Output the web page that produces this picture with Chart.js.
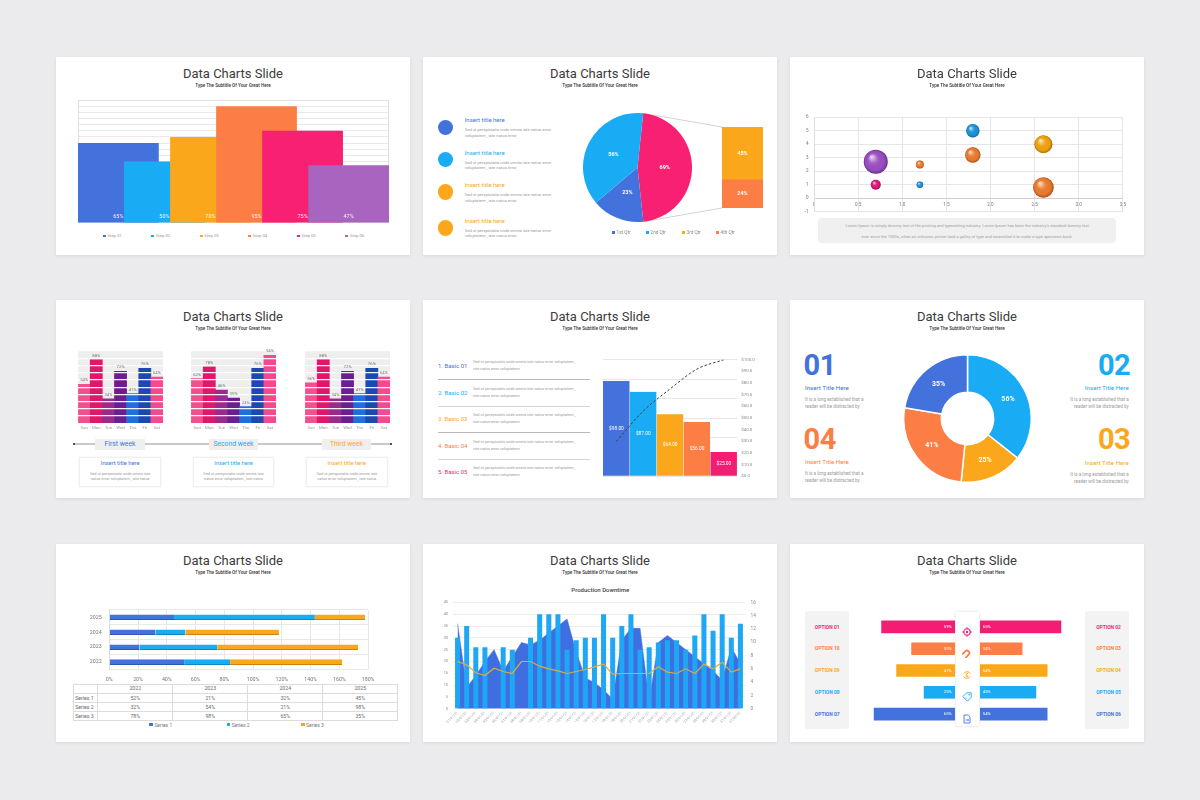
<!DOCTYPE html>
<html><head><meta charset="utf-8"><title>Data Charts Slides</title>
<script src="https://cdn.jsdelivr.net/npm/chart.js@4.4.1/dist/chart.umd.min.js"></script>
<style>
html,body{margin:0;padding:0;}
body{width:1200px;height:800px;background:#ebebed;position:relative;overflow:hidden;font-family:Roboto,"Noto Sans",sans-serif;}
.card{position:absolute;width:354px;height:198px;background:#fff;box-shadow:0 1px 3px rgba(0,0,0,0.08);}
.t{position:absolute;white-space:nowrap;line-height:1;}
canvas{position:absolute;}
table td{border:0.5px solid #dcdcdc;padding:0;height:8.1px;line-height:1;text-align:center;}
</style></head>
<body>
<script>
// ================= DATA =================
const slideTitle = 'Data Charts Slide';
const slideSubtitle = 'Type The Subtitle Of Your Great Here';

// slide 1
const stepLabels = ['Step 01','Step 02','Step 03','Step 04','Step 05','Step 06'];
const stepValues = [65, 50, 70, 95, 75, 47];

// slide 2
const infoTitles = ['Insert title here','Insert title here','Insert title here','Insert title here'];
const infoLines = ['Sed ut perspiciatis unde omnis iste natus error','voluptatem , iste natus error'];
const qtrLabels = ['1st Qtr','2nd Qtr','3rd Qtr','4th Qtr'];
const qtrValues = [23, 56, 45, 24];
const pieLabels = ['3rd + 4th Qtr','1st Qtr','2nd Qtr'];
const pieValues = [69, 23, 56];

// slide 3
const bubbleX = [0.7, 0.7, 1.2, 1.2, 1.8, 1.8, 2.6, 2.6];
const bubbleY = [2.7, 1.0, 2.5, 1.0, 5.0, 3.2, 4.0, 0.8];
const bubbleSize = [12, 5, 4, 3.3, 6.7, 7.7, 9, 10.3];
const loremLines = ["Lorem Ipsum is simply dummy text of the printing and typesetting industry. Lorem Ipsum has been the industry's standard dummy text",
                    "ever since the 1500s, when an unknown printer took a galley of type and scrambled it to make a type specimen book."];

// slide 4
const dayLabels = ['Sun','Mon','Tue','Wed','Thu','Fri','Sat'];
const weekNames = ['First week','Second week','Third week'];
const weekOne = [54, 88, 34, 72, 41, 76, 64];
const weekTwo = [62, 78, 46, 35, 23, 76, 94];
const weekThree = [56, 88, 34, 72, 41, 76, 64];
const weekCardTitle = 'Insert title here';
const weekCardLines = ['Sed ut perspiciatis unde omnis iste','natus error voluptatem , iste natus'];

// slide 5
const basicLabels = ['Basic 01','Basic 02','Basic 03','Basic 04','Basic 05'];
const basicLines = ['Sed ut perspiciatis unde omnis iste natus error voluptatem ,','iste natus error voluptatem'];
const paretoValues = [98, 87, 64, 56, 25];
const paretoCumulative = [30, 56, 75, 92, 100];

// slide 6
const donutLabels = ['02','03','04','01'];
const donutValues = [56, 25, 41, 35];
const donutTitle = 'Insert Title Here';
const donutLines = ['It is a long established that a','reader will be distracted by'];

// slide 7
const yearLabels = ['2022','2023','2024','2025'];
const seriesNames = ['Series 1','Series 2','Series 3'];
const series1 = [52, 21, 32, 45];
const series2 = [32, 54, 21, 98];
const series3 = [78, 98, 65, 35];

// slide 8
const downtimeTitle = 'Production Downtime';
const downtimeDates = ['01/01/21','02/01/21','03/01/21','04/01/21','05/01/21','06/01/21','07/01/21','08/01/21',
  '09/01/21','10/01/21','11/01/21','12/01/21','13/01/21','14/01/21','15/01/21','16/01/21',
  '17/01/21','18/01/21','19/01/21','20/01/21','21/01/21','22/01/21','23/01/21','24/01/21',
  '25/01/21','26/01/21','27/01/21','28/01/21','29/01/21','30/01/21','31/01/21','01/02/21'];
const downtimeBars = [30,35,26,26,null,26,25,null,30,40,40,40,25,29,30,30,40,30,35,40,25,26,28,29,29,25,31,40,33,40,30,36];
const downtimeArea = [36,9,14,20,25,16,22,28,27,29,32,35,38,24,13,11,8,4,29,34,34,3,28,31,28,25,22,19,16,12,26,19];
const downtimeLine = [7.1,6.6,5.4,5.0,6.1,5.6,5.3,7.1,7.1,6.4,6.0,5.7,5.3,5.6,5.9,6.3,6.7,5.2,5.3,5.3,5.3,5.3,6.3,5.5,5.3,6.0,5.3,6.7,6.0,7.0,5.5,6.0];

// slide 9
const optionLeftLabels = ['OPTION 01','OPTION 10','OPTION 09','OPTION 08','OPTION 07'];
const optionRightLabels = ['OPTION 02','OPTION 03','OPTION 04','OPTION 05','OPTION 06'];
const optionLeftValues = [59, 35, 47, 25, 65];
const optionRightValues = [65, 34, 54, 45, 54];

// ================= STYLE =================
const BLUE='#4472dc', LBLUE='#1aabf5', YEL='#fba71b', ORG='#fd7e45', PINK='#f72072', PURP='#a864bf';
const stepColors = [BLUE, LBLUE, YEL, ORG, PINK, PURP];
const dayColors = ['#f2508f','#e0176b','#9c2a8c','#6b1e90','#1d70de','#1c48b0','#f54a8f'];
const bubbleColors = ['#9b4dc3','#e0157a','#ec7a2c','#1a93da','#1a93da','#ec7a2c','#f0a20c','#ec7a2c'];
const rowColors = ['#f31d73', ORG, YEL, LBLUE, BLUE];

Chart.defaults.font.family = 'Roboto, "Noto Sans", sans-serif';
Chart.defaults.animation = false;
Chart.defaults.responsive = false;
Chart.defaults.maintainAspectRatio = false;
Chart.defaults.events = [];
Chart.defaults.layout.autoPadding = false;
Chart.defaults.plugins.legend.display = false;
Chart.defaults.plugins.tooltip.enabled = false;

const CARD_X=[56,423,790], CARD_Y=[57,300,544];
function T(p,x,y,text,o){
  o=o||{}; const e=document.createElement('div'); e.className='t'; e.textContent=text;
  const a=o.align||'center';
  e.style.fontSize=(o.size||5)+'px'; e.style.color=o.color||'#888';
  if(o.weight) e.style.fontWeight=o.weight;
  if(o.ls) e.style.letterSpacing=o.ls;
  e.style.left=x+'px'; e.style.top=y+'px';
  e.style.transform='translate('+(a==='center'?'-50%':a==='right'?'-100%':'0')+',-50%)';
  p.appendChild(e); return e;
}
function box(p,x,y,w,h,css){ const e=document.createElement('div'); e.style.cssText='position:absolute;left:'+x+'px;top:'+y+'px;width:'+w+'px;height:'+h+'px;'+(css||''); p.appendChild(e); return e; }
function C(p,x,y,w,h){ const c=document.createElement('canvas'); c.width=w; c.height=h; c.style.cssText='position:absolute;left:'+x+'px;top:'+y+'px;width:'+w+'px;height:'+h+'px'; p.appendChild(c); return c; }
function card(i){
  const d=document.createElement('div'); d.className='card';
  d.style.left=CARD_X[i%3]+'px'; d.style.top=CARD_Y[Math.floor(i/3)]+'px';
  document.body.appendChild(d);
  T(d,177,15.7,slideTitle,{size:13,color:'#3b3b3b'});
  T(d,177,29,slideSubtitle,{size:4.6,color:'#333',weight:500});
  return d;
}
function drawText(ctx,text,x,y,font,color,align){
  ctx.save(); ctx.font=font; ctx.fillStyle=color; ctx.textAlign=align||'center'; ctx.textBaseline='middle'; ctx.fillText(text,x,y); ctx.restore();
}
const bgFill = col => ({id:'bg', beforeDraw(ch){ const a=ch.chartArea, ctx=ch.ctx; ctx.save(); ctx.fillStyle=col; ctx.fillRect(a.left,a.top,a.width,a.height); ctx.restore(); }});
const arcLabels = (font) => ({id:'arcl', afterDatasetsDraw(ch){ const ds=ch.data.datasets[0]; ch.getDatasetMeta(0).data.forEach((el,i)=>{ const p=el.tooltipPosition(); drawText(ch.ctx, ds.data[i]+'%', p.x, p.y, font, '#fff'); }); }});
function legendItem(d,x,y,col,label,size,tcol){ box(d,x,y-size/2,size,size,'background:'+col); T(d,x+size+1.6,y,label,{size:size+1.5,color:tcol||'#999',align:'left'}); }

// ================= SLIDE 1 =================
{
  const d=card(0);
  const c=C(d,21.7,43.3,311,123);
  new Chart(c,{type:'bar',
    data:{datasets:stepLabels.map((lab,i)=>({label:lab,data:[{x:i,y:stepValues[i]}],backgroundColor:stepColors[i],grouped:false,barPercentage:1.754,categoryPercentage:1,order:stepLabels.length-i}))},
    options:{layout:{padding:0},scales:{
      x:{type:'linear',offset:false,min:-0.877,max:stepLabels.length-1+0.877,display:false,afterBuildTicks:s=>{s.ticks=s.ticks.filter(t=>Number.isInteger(t.value));}},
      y:{min:0,max:100,ticks:{display:false,stepSize:5},grid:{color:'#e9e9e9',drawTicks:false},border:{display:false},afterFit:s=>{s.width=0;}}}},
    plugins:[{id:'c1',beforeDatasetsDraw(ch){const a=ch.chartArea,ctx=ch.ctx;ctx.save();ctx.strokeStyle='#e0e0e0';ctx.lineWidth=1;ctx.strokeRect(a.left+0.5,a.top+0.5,a.width-1,a.height-1);ctx.restore();},
      afterDatasetsDraw(ch){ch.data.datasets.forEach((ds,i)=>{const el=ch.getDatasetMeta(i).data[0];drawText(ch.ctx,ds.data[0].y+'%',el.x,el.base-5.7,'5.5px Roboto','rgba(255,255,255,0.92)');});}}]
  });
  stepLabels.forEach((lab,i)=>legendItem(d,46.8+48.5*i,179,stepColors[i],lab,2.8));
}

// ================= SLIDE 2 =================
{
  const d=card(1);
  const circleY=[70.7,102.7,135,171], titleY=[63.3,95.7,128,163.7], infoColors=[BLUE,LBLUE,YEL,YEL];
  infoTitles.forEach((t,i)=>{
    box(d,15,circleY[i]-7.7,15.4,15.4,'border-radius:50%;background:'+infoColors[i]);
    T(d,41.7,titleY[i],t,{size:6,color:infoColors[i],align:'left'});
    infoLines.forEach((l,j)=>T(d,41.7,titleY[i]+10+5.6*j,l,{size:4.2,color:'#9a9a9a',align:'left'}));
  });
  const pc=C(d,150,50,195,125);
  const bc=C(d,299,70,41,81);
  const barChart=new Chart(bc,{type:'bar',
    data:{labels:[''],datasets:[
      {label:qtrLabels[3],data:[qtrValues[3]],backgroundColor:ORG,barPercentage:1,categoryPercentage:1},
      {label:qtrLabels[2],data:[qtrValues[2]],backgroundColor:YEL,barPercentage:1,categoryPercentage:1}]},
    options:{layout:{padding:0},scales:{x:{stacked:true,display:false},y:{stacked:true,display:false,min:0,max:qtrValues[2]+qtrValues[3]}}},
    plugins:[{id:'c2b',afterDatasetsDraw(ch){ch.data.datasets.forEach((ds,i)=>{const el=ch.getDatasetMeta(i).data[0];drawText(ch.ctx,ds.data[0]+'%',el.x,(el.y+el.base)/2,'bold 5.5px Roboto','#fff');});}}]
  });
  new Chart(pc,{type:'pie',
    data:{labels:pieLabels,datasets:[{data:pieValues,backgroundColor:[PINK,BLUE,LBLUE],borderWidth:0}]},
    options:{rotation:6,layout:{padding:{left:10,top:6,right:76,bottom:10}}},
    plugins:[{id:'c2p',beforeDatasetsDraw(ch){
        const el=ch.getDatasetMeta(0).data[0];
        const top=barChart.getDatasetMeta(1).data[0], bot=barChart.getDatasetMeta(0).data[0];
        const ox=149, oy=20, ctx=ch.ctx, R=el.outerRadius;
        ctx.save();ctx.strokeStyle='#b3b3b3';ctx.lineWidth=0.6;ctx.beginPath();
        ctx.moveTo(el.x+R*Math.cos(el.startAngle),el.y+R*Math.sin(el.startAngle));ctx.lineTo(ox+top.x-top.width/2,oy+top.y);
        ctx.moveTo(el.x+R*Math.cos(el.endAngle),el.y+R*Math.sin(el.endAngle));ctx.lineTo(ox+bot.x-bot.width/2,oy+bot.base);
        ctx.stroke();ctx.restore();
      }}, arcLabels('bold 5.5px Roboto')]
  });
  const qtrColors=[BLUE,LBLUE,YEL,ORG], legX=[188.7,222.7,258.7,292.7];
  qtrLabels.forEach((q,i)=>legendItem(d,legX[i],175.7,qtrColors[i],q,3.2,'#888'));
}

// ================= SLIDE 3 =================
{
  const d=card(2);
  const c=C(d,6,52,334,111);
  new Chart(c,{type:'bubble',
    data:{datasets:[{data:bubbleX.map((x,i)=>({x:x,y:bubbleY[i],r:bubbleSize[i]})),backgroundColor:bubbleColors,borderWidth:0}]},
    options:{layout:{autoPadding:false,padding:{top:5.3,right:3,bottom:3.3}},scales:{
      x:{type:'linear',position:{y:0},min:0,max:3.5,ticks:{stepSize:0.5,font:{size:4.6},color:'#777',padding:4,maxRotation:0},grid:{color:'#e6e6e6',drawTicks:false},border:{color:'#cfcfcf'}},
      y:{min:-1,max:6,ticks:{stepSize:1,font:{size:4.6},color:'#777',padding:5.5},grid:{color:'#e6e6e6',drawTicks:false},border:{color:'#dedede'},afterFit:s=>{s.width=18;}}}},
    plugins:[{id:'shade',afterDatasetsDraw(ch){const ctx=ch.ctx;ch.getDatasetMeta(0).data.forEach(el=>{const r=el.options.radius;
      const g=ctx.createRadialGradient(el.x-r*0.35,el.y-r*0.42,r*0.05,el.x,el.y,r);
      g.addColorStop(0,'rgba(255,255,255,0.75)');g.addColorStop(0.35,'rgba(255,255,255,0.12)');g.addColorStop(0.75,'rgba(0,0,0,0)');g.addColorStop(1,'rgba(0,0,0,0.3)');
      ctx.save();ctx.fillStyle=g;ctx.beginPath();ctx.arc(el.x,el.y,r,0,Math.PI*2);ctx.fill();ctx.restore();});}}]
  });
  box(d,28.3,160.7,297.7,25.3,'background:#f0f0f0;border-radius:4px');
  loremLines.forEach((l,j)=>T(d,177.2,169.3+10.7*j,l,{size:4.1,color:'#a0a0a0'}));
}

// ================= SLIDE 4 =================
{
  const d=card(3);
  const weeks=[weekOne,weekTwo,weekThree], chartX=[21.7,135,249], weekColors=[BLUE,LBLUE,YEL];
  weeks.forEach((vals,k)=>{
    const c=C(d,chartX[k],44,85,90);
    new Chart(c,{type:'bar',
      data:{labels:dayLabels,datasets:[{data:vals,backgroundColor:dayColors,barPercentage:1,categoryPercentage:1}]},
      options:{layout:{padding:{top:7}},scales:{
        x:{ticks:{font:{size:4.3},color:'#999',padding:2.5,autoSkip:false,maxRotation:0},grid:{display:false,drawTicks:false},border:{display:false},afterFit:s=>{s.height=10.7;}},
        y:{min:0,max:100,ticks:{display:false,stepSize:10},grid:{color:'rgba(255,255,255,0.95)',lineWidth:1.2,drawTicks:false,z:1},border:{display:false},afterFit:s=>{s.width=0;}}}},
      plugins:[bgFill('#eeeeee'),{id:'wl',afterDraw(ch){const ds=ch.data.datasets[0];ch.getDatasetMeta(0).data.forEach((el,i)=>drawText(ch.ctx,ds.data[i]+'%',el.x,el.y-4,'4.3px Roboto','#777'));}}]
    });
  });
  box(d,18.3,143.4,316.7,1.2,'background:#c9c9c9');
  box(d,17.1,142.8,2.4,2.4,'background:#222;border-radius:50%');
  box(d,333.8,142.8,2.4,2.4,'background:#222;border-radius:50%');
  const lblX=[39.3,152.7,265.7], cardX=[23.3,136.7,250];
  weekNames.forEach((w,k)=>{
    box(d,lblX[k],139,49.5,10.5,'background:#efefef');
    T(d,lblX[k]+24.75,144.2,w,{size:6.8,color:weekColors[k]});
    box(d,cardX[k],156.7,81.7,30,'background:#fff;border:0.6px solid #f0f0f0;box-sizing:border-box;box-shadow:0 0 2px rgba(0,0,0,0.08)');
    T(d,cardX[k]+40.85,164.3,weekCardTitle,{size:5.8,color:weekColors[k]});
    weekCardLines.forEach((l,j)=>T(d,cardX[k]+40.85,173.7+5*j,l,{size:3.9,color:'#9a9a9a'}));
  });
}

// ================= SLIDE 5 =================
{
  const d=card(4);
  const basicColors=[BLUE,LBLUE,YEL,ORG,'#f31d73'];
  const itemY=[66,92.7,119,145.7,172];
  basicLabels.forEach((b,i)=>{
    T(d,15,itemY[i],(i+1)+'.  '+b,{size:6,color:basicColors[i],align:'left'});
    basicLines.forEach((l,j)=>T(d,50,itemY[i]-3.6+6.6*j,l,{size:3.9,color:'#9a9a9a',align:'left'}));
    if(i<4) box(d,15,itemY[i]+13,151.7,0.8,'background:'+(i%2?'#d6d6d6':'#b9b9b9'));
  });
  const c=C(d,180,52,168,131);
  new Chart(c,{type:'bar',
    data:{labels:basicLabels,datasets:[
      {type:'line',data:paretoCumulative,yAxisID:'y1',borderColor:'#3c3c3c',borderWidth:1,borderDash:[2.5,2],pointRadius:0,cubicInterpolationMode:'monotone',fill:false,order:0},
      {type:'bar',data:paretoValues,yAxisID:'y',backgroundColor:basicColors,borderColor:'#fff',borderWidth:{right:0.7,left:0,top:0,bottom:0},barPercentage:1,categoryPercentage:1,order:1}]},
    options:{layout:{padding:{top:7.7,bottom:4.7}},scales:{
      x:{display:false},
      y:{position:'left',min:0,max:120,ticks:{display:false,stepSize:20},grid:{color:'#e6e6e6',drawTicks:false},border:{display:false},afterFit:s=>{s.width=0;}},
      y1:{position:'right',min:0,max:100,ticks:{stepSize:10,font:{size:4.4},color:'#888',padding:4,callback:v=>'$'+Number(v).toFixed(1)},grid:{display:false,drawTicks:false},border:{display:false},afterFit:s=>{s.width=33.7;}}}},
    plugins:[{id:'pl',afterDatasetsDraw(ch){const ds=ch.data.datasets[1];ch.getDatasetMeta(1).data.forEach((el,i)=>drawText(ch.ctx,'$'+ds.data[i].toFixed(2),el.x,(el.y+el.base)/2,'4.8px Roboto','#fff'));}}]
  });
}

// ================= SLIDE 6 =================
{
  const d=card(5);
  const donutColors=[LBLUE,YEL,ORG,BLUE];
  const c=C(d,113,54,129,129);
  new Chart(c,{type:'doughnut',
    data:{labels:donutLabels,datasets:[{data:donutValues,backgroundColor:donutColors,borderColor:'#fff',borderWidth:1.5}]},
    options:{cutout:'41%',layout:{padding:0}},
    plugins:[arcLabels('bold 7px Roboto')]});
  const pos={'01':{x:15,a:'left',y:[65,88,100]},'04':{x:15,a:'left',y:[139.3,161.7,174]},'02':{x:338.7,a:'right',y:[65,87.7,100]},'03':{x:338.7,a:'right',y:[139.3,162.7,175]}};
  donutLabels.forEach((n,i)=>{
    const p=pos[n], col=donutColors[i];
    T(d,p.x-(p.a==='left'?1.5:-1.5),p.y[0],n,{size:29,color:col,weight:700,align:p.a,ls:'-0.5px'});
    T(d,p.x,p.y[1],donutTitle,{size:6.2,color:col,align:p.a});
    donutLines.forEach((l,j)=>T(d,p.x,p.y[2]+6.7*j,l,{size:4.6,color:'#9a9a9a',align:p.a}));
  });
}

// ================= SLIDE 7 =================
{
  const d=card(6);
  const sCols=[BLUE,LBLUE,YEL], sEdge=['#2f56b0','#0d86c4','#c9820e'], sVals=[series1,series2,series3];
  const c=C(d,20,55,305,85);
  new Chart(c,{type:'bar',
    data:{labels:yearLabels,datasets:seriesNames.map((s,i)=>({label:s,data:sVals[i],backgroundColor:sCols[i],borderColor:sEdge[i],borderWidth:{bottom:1,top:0,left:0,right:0},borderSkipped:false,barPercentage:0.37,categoryPercentage:1}))},
    options:{indexAxis:'y',layout:{padding:{top:7,right:6.7}},scales:{
      x:{stacked:true,min:0,max:180,ticks:{stepSize:20,callback:v=>v+'%',font:{size:5.3},color:'#777',padding:6.5,maxRotation:0},grid:{color:'#e8e8e8',drawTicks:false},border:{display:false},afterFit:s=>{s.height=14.4;}},
      y:{stacked:true,reverse:true,ticks:{font:{size:5.3},color:'#777',padding:7.6},grid:{color:'#e8e8e8',drawTicks:false},border:{color:'#dddddd'},afterFit:s=>{s.width=33.3;}}}}
  });
  const tb=document.createElement('table');
  tb.style.cssText='position:absolute;left:16.7px;top:140px;border-collapse:collapse;table-layout:fixed;width:324.6px;font-size:5.2px;color:#6a6a6a;font-family:Roboto';
  const colW=[24.6,75,75,75,75];
  const cg=document.createElement('colgroup'); colW.forEach(w=>{const col=document.createElement('col');col.style.width=w+'px';cg.appendChild(col);}); tb.appendChild(cg);
  const rows=[[''].concat(yearLabels)].concat(seriesNames.map((s,i)=>[s].concat(sVals[i].map(v=>v+'%'))));
  rows.forEach(r=>{const tr=document.createElement('tr');r.forEach((v,j)=>{const td=document.createElement('td');td.textContent=v;if(j===0){td.style.textAlign='left';td.style.paddingLeft='1.5px';}tr.appendChild(td);});tb.appendChild(tr);});
  d.appendChild(tb);
  const lx=[93.3,170.7,245];
  seriesNames.forEach((s,i)=>legendItem(d,lx[i],180.7,sCols[i],s,3.5,'#777'));
}

// ================= SLIDE 8 =================
{
  const d=card(7);
  T(d,177.3,46,downtimeTitle,{size:6,color:'#444',weight:500});
  const c=C(d,18,50,330,140);
  new Chart(c,{type:'bar',
    data:{labels:downtimeDates,datasets:[
      {type:'line',data:downtimeLine,yAxisID:'y1',borderColor:'#e0a93c',borderWidth:1.2,pointRadius:0,fill:false,order:1},
      {type:'bar',data:downtimeBars,yAxisID:'y',backgroundColor:'#1ea7f4',barPercentage:0.55,categoryPercentage:1,order:2},
      {type:'line',data:downtimeArea,yAxisID:'y',borderColor:'#3f6ee0',backgroundColor:'#3f6ee0',borderWidth:0.5,fill:'origin',pointRadius:0,order:3}]},
    options:{layout:{padding:{top:6.7}},scales:{
      x:{ticks:{font:{size:3.5},color:'#999',minRotation:45,maxRotation:45,autoSkip:false,padding:2},grid:{display:false,drawTicks:false},border:{display:false},afterFit:s=>{s.height=25.3;}},
      y:{position:'left',min:0,max:45,ticks:{stepSize:5,font:{size:3.8},color:'#888',padding:5},grid:{color:'#ececec',drawTicks:false},border:{display:false},afterFit:s=>{s.width=12;}},
      y1:{position:'right',min:0,max:16,ticks:{stepSize:2,font:{size:4.8},color:'#888',padding:5.5},grid:{display:false,drawTicks:false},border:{display:false},afterFit:s=>{s.width=26;}}}}
  });
}

// ================= SLIDE 9 =================
{
  const d=card(8);
  const rowY=[82.7,104.3,126,147.7,170];
  box(d,15,66.7,44.3,118.3,'background:#f3f3f3;border-radius:3px');
  box(d,295.3,66.7,44,118.3,'background:#f3f3f3;border-radius:3px');
  optionLeftLabels.forEach((l,i)=>T(d,37.2,rowY[i],l,{size:4.9,color:rowColors[i],weight:700}));
  optionRightLabels.forEach((l,i)=>T(d,318.5,rowY[i],l,{size:4.9,color:rowColors[i],weight:700}));
  box(d,165.7,67.7,23.3,114,'background:#fff;box-shadow:0 0 3px rgba(0,0,0,0.15)');
  const mk=(x,vals,rev,labelDx)=>{
    const c=C(d,x,71.8,150,109);
    new Chart(c,{type:'bar',
      data:{labels:optionLeftLabels,datasets:[{data:vals,backgroundColor:rowColors,barPercentage:0.58,categoryPercentage:1}]},
      options:{indexAxis:'y',layout:{padding:0},scales:{x:{reverse:rev,min:0,max:120,display:false},y:{display:false}}},
      plugins:[{id:'ol',afterDatasetsDraw(ch){const ds=ch.data.datasets[0];ch.getDatasetMeta(0).data.forEach((el,i)=>drawText(ch.ctx,ds.data[i]+'%',el.base+labelDx,el.y,'4.2px Roboto','#fff'));}}]
    });
  };
  mk(15,optionLeftValues,true,-7.3);
  mk(190,optionRightValues,false,6.7);
  const icons=[
    '<circle cx="5" cy="5" r="3.2" fill="none" stroke="C" stroke-width="1.1"/><circle cx="5" cy="5" r="1.2" fill="C"/><path d="M5 0.3V2.3M5 7.7V9.7M0.3 5H2.3M7.7 5H9.7" stroke="C" stroke-width="1.1"/>',
    '<g transform="rotate(45 5 5)"><path d="M2.6 9.5V5a2.4 2.4 0 0 1 4.8 0v4.5" fill="none" stroke="C" stroke-width="1.8"/></g>',
    '<path d="M8.6 3.6A4 4 0 0 0 1.6 3.8M1.4 6.4A4 4 0 0 0 8.4 6.2" fill="none" stroke="C" stroke-width="0.9"/><text x="5" y="6.9" font-size="5.2" text-anchor="middle" fill="C" font-weight="bold" font-family="Roboto">$</text>',
    '<path d="M0.8 4.6L4.6 0.8H9.2V5.4L5.4 9.2Z" fill="none" stroke="C" stroke-width="0.9"/><circle cx="7.2" cy="2.8" r="0.8" fill="C"/><path d="M3.5 5.2L5.2 6.9" stroke="C" stroke-width="0.7"/>',
    '<path d="M2 1H6.2L8 2.8V9H2Z" fill="none" stroke="C" stroke-width="0.9"/><path d="M3.4 6H6.6M5.6 5L6.6 6L5.6 7" stroke="C" stroke-width="0.8" fill="none"/>'
  ];
  icons.forEach((s,i)=>{const e=box(d,172.3,rowY[i]-5,10,10,'');e.innerHTML='<svg width="10" height="10" viewBox="0 0 10 10">'+s.replace(/"C"/g,'"'+rowColors[i]+'"')+'</svg>';});
}
</script>
</body></html>
